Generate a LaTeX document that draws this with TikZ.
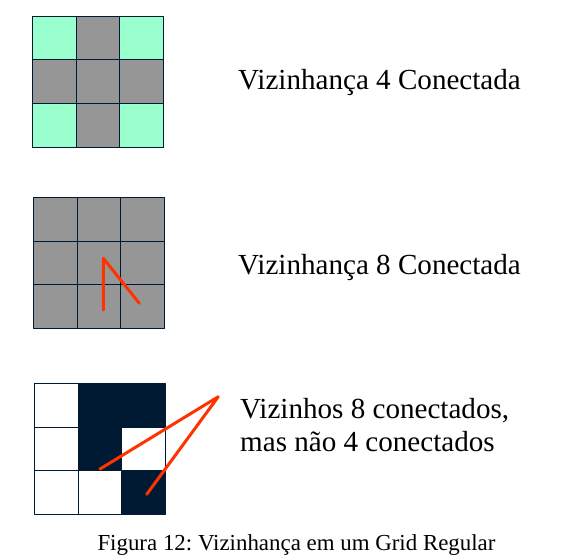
\documentclass[tikz,border=0pt]{standalone}
\usepackage{fontspec}
\setmainfont{Liberation Serif}
\usetikzlibrary{positioning, calc}
\frenchspacing

\definecolor{navy}{RGB}{0,26,51}
\definecolor{mint}{RGB}{153,255,204}
\definecolor{cellgray}{RGB}{150,150,150}
\definecolor{redline}{RGB}{255,51,0}

\begin{document}
\begin{tikzpicture}[x=1pt, y=-1pt, line cap=round, line join=round]
	\def\c{43.7}
	
	\tikzset{
		cell/.style={draw=navy, line width=1pt},
		greencell/.style={cell, fill=mint},
		graycell/.style={cell, fill=cellgray},
		whitecell/.style={cell, fill=white},
		darkcell/.style={fill=navy},
		pathline/.style={draw=redline, line width=3pt},
		lbl/.style={anchor=base west, inner sep=0pt, font=\fontsize{29.1}{33.7}\selectfont, align=left},
		captext/.style={anchor=base, inner sep=0pt, font=\fontsize{22.9}{26}\selectfont}
	}
	
	\useasboundingbox (0,0) rectangle (566,557);
	
	% cell at column #1, row #2, style #3, grid origin #4
	\newcommand{\gridcell}[4]{
		\path[#3] ($(#4)+(#1*\c,#2*\c)$) rectangle ++(\c,\c);
	}
	
	% grid 1: 4-connected
	\coordinate (g1) at (32.3,16);
	\gridcell{0}{0}{greencell}{g1}
	\gridcell{1}{0}{graycell}{g1}
	\gridcell{2}{0}{greencell}{g1}
	\gridcell{0}{1}{graycell}{g1}
	\gridcell{1}{1}{graycell}{g1}
	\gridcell{2}{1}{graycell}{g1}
	\gridcell{0}{2}{greencell}{g1}
	\gridcell{1}{2}{graycell}{g1}
	\gridcell{2}{2}{greencell}{g1}
	
	% grid 2: 8-connected
	\coordinate (g2) at (33.3,197.3);
	\foreach \i in {0,1,2}{
		\foreach \j in {0,1,2}{
			\gridcell{\i}{\j}{graycell}{g2}
		}
	}
	\coordinate (p1) at (103.3,310);
	\coordinate (p2) at (103.3,258.3);
	\coordinate (p3) at (139.3,303.3);
	\draw[pathline] (p1) -- (p2) -- (p3);
	
	% grid 3: 8 but not 4
	\coordinate (g3) at (34.3,383.3);
	\foreach \i in {0,1,2}{
		\foreach \j in {0,1,2}{
			\gridcell{\i}{\j}{whitecell}{g3}
		}
	}
	\gridcell{1}{0}{darkcell}{g3}
	\gridcell{2}{0}{darkcell}{g3}
	\gridcell{1}{1}{darkcell}{g3}
	\gridcell{2}{2}{darkcell}{g3}
	\path[fill=white] ($(g3)+(2*\c+1.5,\c+1.5)$) rectangle ($(g3)+(3*\c-1,2*\c-1.5)$);
	\coordinate (q1) at (100,469);
	\coordinate (q2) at (218.3,396.7);
	\coordinate (q3) at (146.7,494.3);
	\draw[pathline] (q1) -- (q2) -- (q3);
	
	\node[lbl] (four) at (238,89) {Vizinhança 4 Conectada};
	\node[lbl] (eight) at (238,274) {Vizinhança 8 Conectada};
	% base anchor sits on the last line
	\node[lbl] (mixed) at (240,451.7) {Vizinhos 8 conectados,\\mas não 4 conectados};
	
	\node[captext] (caption) at (296.5,550) {Figura 12: Vizinhança em um Grid Regular};
	
\end{tikzpicture}
\end{document}
